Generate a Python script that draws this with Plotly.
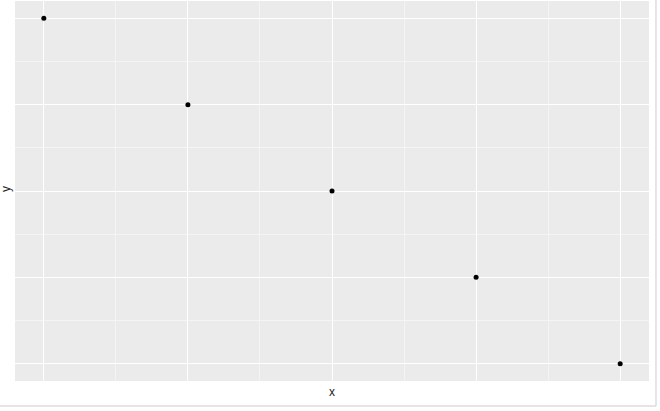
import plotly.graph_objects as go

x_vals = [1, 2, 3, 4, 5]
y_vals = [5, 4, 3, 2, 1]
x_label = "x"
y_label = "y"

W, H = 660, 411
ml, mr, mt, mb = 15, 11, 1, 30

fig = go.Figure(go.Scatter(
    x=x_vals, y=y_vals, mode="markers",
    marker=dict(color="black", size=5),
    showlegend=False, hoverinfo="skip",
))

def axis_cfg(vals):
    lo, hi = min(vals), max(vals)
    pad = (hi - lo) * 0.05
    minor_vals = [(a + b) / 2 for a, b in zip(sorted(vals)[:-1], sorted(vals)[1:])]
    return dict(
        range=[lo - pad, hi + pad],
        tickvals=vals,
        showticklabels=False,
        ticks="",
        automargin=False,
        showgrid=True, gridcolor="white", gridwidth=1.4,
        zeroline=False, showline=False,
        minor=dict(tickvals=minor_vals, showgrid=True, gridcolor="#f4f4f4", gridwidth=0.7, ticks=""),
    )

fig.update_layout(
    width=W, height=H,
    margin=dict(l=ml, r=mr, t=mt, b=mb, pad=0),
    paper_bgcolor="white",
    plot_bgcolor="#ebebeb",
    xaxis=axis_cfg(x_vals),
    yaxis=axis_cfg(y_vals),
    font=dict(family="Liberation Sans, Arial, sans-serif", size=12, color="#222"),
)

pw = W - ml - mr
ph = H - mt - mb
# axis titles
fig.add_annotation(text=x_label, xref="paper", yref="paper", x=(332 - ml) / pw,
                   y=-(392 - (H - mb)) / ph, showarrow=False, xanchor="center", yanchor="middle",
                   font=dict(size=12, color="#222"))
fig.add_annotation(text=y_label, xref="paper", yref="paper", x=-(ml - 6) / pw,
                   y=1 - (189 - mt) / ph, showarrow=False, textangle=-90,
                   xanchor="center", yanchor="middle", font=dict(size=12, color="#222"))
# outer screenshot frame lines
fig.add_shape(type="line", xref="paper", yref="paper",
              x0=(656 - ml) / pw, x1=(656 - ml) / pw, y0=-(406 - (H - mb)) / ph, y1=1.0 + mt / ph,
              line=dict(color="#dddddd", width=1.5))
fig.add_shape(type="line", xref="paper", yref="paper",
              x0=-ml / pw, x1=(656 - ml) / pw, y0=-(406 - (H - mb)) / ph, y1=-(406 - (H - mb)) / ph,
              line=dict(color="#dddddd", width=1.5))

fig.write_html("out.html", config={"displayModeBar": False},
               post_script="document.body.style.margin='0';document.body.style.overflow='hidden';")
